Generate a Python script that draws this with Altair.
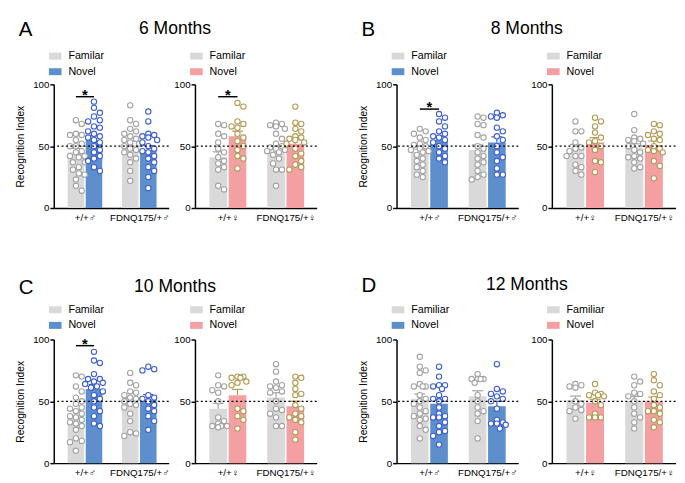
import math
import altair as alt
import pandas as pd

FONT = "Liberation Sans, Arial, DejaVu Sans"

# ---------------- data ----------------
GROUPS_M = ["+/+\u2642", "FDNQ175/+\u2642"]
GROUPS_F = ["+/+\u2640", "FDNQ175/+\u2640"]

# 6 months, males
m6_m_fam_wt = [71, 68, 60, 59, 59, 55, 52, 50, 50, 46, 45, 42, 41, 42, 37, 37, 33, 31, 28, 27, 23, 18, 14]
m6_m_nov_wt = [86, 81, 77, 74, 71, 70, 66, 65, 62, 60, 58, 57, 55, 53, 50, 47, 45, 42, 40, 38, 33, 30]
m6_m_fam_mut = [83, 71, 68, 64, 62, 60, 58, 56, 55, 53, 52, 50, 48, 47, 45, 43, 40, 37, 30, 22]
m6_m_nov_mut = [78, 70, 60, 59, 58, 57, 55, 53, 50, 48, 46, 45, 42, 40, 37, 33, 30, 25, 16]
m6_m_means = [45, 55, 51, 47]
# 6 months, females
m6_f_fam_wt = [68, 67, 60, 58, 53, 48, 45, 41, 38, 36, 33, 31, 18, 15]
m6_f_nov_wt = [85, 82, 70, 68, 66, 65, 60, 57, 54, 50, 47, 42, 40, 32]
m6_f_fam_mut = [69, 68, 67, 66, 64, 60, 56, 52, 50, 49, 48, 47, 46, 45, 43, 40, 36, 31, 31, 18]
m6_f_nov_mut = [82, 69, 68, 64, 62, 58, 57, 56, 55, 53, 52, 48, 44, 42, 38, 35, 33, 31]
m6_f_means = [41, 58, 46, 52]

# 8 months, males
m8_m_fam_wt = [64, 62, 60, 57, 55, 52, 51, 50, 48, 47, 46, 45, 43, 40, 38, 35, 33, 30, 27, 25]
m8_m_nov_wt = [76, 73, 70, 66, 62, 60, 58, 57, 55, 53, 50, 48, 45, 42, 40, 37]
m8_m_fam_mut = [74, 73, 68, 67, 59, 57, 50, 48, 45, 42, 40, 37, 35, 30, 27, 25, 23]
m8_m_nov_mut = [77, 75, 73, 74, 65, 62, 58, 55, 50, 45, 41, 38, 32, 27, 27]
m8_m_means = [45, 55, 47, 53]
# 8 months, females
m8_f_fam_wt = [70, 62, 62, 53, 49, 48, 46, 42, 42, 42, 35, 33, 30, 27]
m8_f_nov_wt = [73, 70, 66, 61, 57, 54, 53, 50, 47, 38, 37, 29]
m8_f_fam_mut = [76, 63, 57, 56, 55, 54, 52, 50, 47, 45, 42, 41, 40, 37, 33, 32]
m8_f_nov_mut = [68, 67, 62, 60, 59, 56, 55, 50, 48, 47, 46, 45, 38, 34, 24]
m8_f_means = [48, 53, 49, 51]

# 10 months, males
m10_m_fam_wt = [71, 70, 62, 58, 53, 50, 48, 45, 44, 42, 40, 38, 37, 35, 33, 32, 30, 27, 20, 18, 17, 10]
m10_m_nov_wt = [90, 83, 81, 72, 68, 68, 66, 65, 64, 62, 61, 58, 55, 52, 50, 45, 42, 38, 32, 30]
m10_m_fam_mut = [73, 65, 63, 58, 57, 55, 53, 52, 50, 48, 47, 45, 40, 34, 25, 24, 22]
m10_m_nov_mut = [78, 76, 75, 55, 53, 52, 50, 47, 44, 42, 38, 34, 27]
m10_m_means = [39, 60, 49, 51]
# 10 months, females
m10_f_fam_wt = [71, 63, 62, 59, 57, 50, 37, 34, 32, 30, 30, 30, 29]
m10_f_nov_wt = [70, 69, 70, 69, 66, 65, 63, 44, 42, 38, 35, 28]
m10_f_fam_mut = [80, 74, 66, 63, 62, 61, 58, 57, 50, 44, 43, 40, 37, 30, 30]
m10_f_nov_mut = [70, 69, 65, 60, 56, 55, 47, 44, 40, 38, 37, 35, 33, 25, 19]
m10_f_means = [44, 55, 53, 46]

# 12 months, males
m12_m_fam_wt = [86, 78, 75, 73, 64, 62, 62, 62, 55, 52, 50, 48, 45, 42, 40, 38, 36, 35, 30, 27, 20]
m12_m_nov_wt = [78, 70, 63, 63, 62, 60, 55, 52, 52, 50, 45, 40, 38, 37, 37, 33, 30, 26, 25, 22, 15]
m12_m_fam_mut = [72, 68, 68, 68, 68, 65, 55, 50, 45, 42, 40, 34, 20]
m12_m_nov_mut = [80, 60, 58, 56, 54, 52, 50, 44, 35, 33, 32, 32, 31, 28]
m12_m_means = [52, 48, 54, 46]
# 12 months, females
m12_f_fam_wt = [64, 63, 62, 61, 50, 48, 45, 43, 42, 36]
m12_f_nov_wt = [64, 57, 56, 55, 55, 54, 50, 47, 40, 37, 37, 37]
m12_f_fam_mut = [70, 66, 63, 57, 56, 54, 50, 45, 40, 37, 33, 28]
m12_f_nov_mut = [72, 67, 63, 58, 55, 52, 47, 45, 42, 42, 40, 35, 33, 29]
m12_f_means = [51, 49, 50, 50]

# ---------------- styling / layout ----------------
GRAY_BAR = "#d9d9d9"
GRAY_PT = "#a3a3a3"
BLUE_BAR = "#5d8fcc"
BLUE_PT = "#3d5fd0"
PINK_BAR = "#f4a0a3"
GOLD_PT = "#b39b55"

XMAX = 6.1
H = 127
CENTERS = [1.0, 2.05, 4.15, 5.2]
HALF = 0.48
GCENT = [(CENTERS[0] + CENTERS[1]) / 2, (CENTERS[2] + CENTERS[3]) / 2]
STEP = 3.3
DIAM = 6.2


def swarm(values, center, w):
    ppu = w / XMAX
    placed = []
    out = [0.0] * len(values)
    order = sorted(range(len(values)), key=lambda i: -values[i])
    for i in order:
        ypx = values[i] * H / 100.0
        best, best_pen = 0.0, None
        for k in [0, 1, -1, 2, -2, 3, -3]:
            xo = k * STEP
            pen = 0.0
            for px, py in placed:
                d = math.hypot(xo - px, ypx - py)
                if d < DIAM:
                    pen = max(pen, DIAM - d)
            if pen == 0:
                best = xo
                best_pen = 0
                break
            if best_pen is None or pen < best_pen - 0.5:
                best, best_pen = xo, pen
        placed.append((best, ypx))
        out[i] = center + best / ppu
    return out


def sem(v):
    n = len(v)
    m = sum(v) / n
    sd = math.sqrt(sum((x - m) ** 2 for x in v) / (n - 1))
    return sd / math.sqrt(n)


def panel(w, groups, cols, means, fam_label, nov_bar, nov_pt, ytitle,
          sig=None, letter=None, letter_y=-50, leg_y=-35.5):
    conds = [fam_label, "Novel", fam_label, "Novel"]
    tops = [means[i] + sem(cols[i]) for i in range(4)]
    bars = pd.DataFrame({
        "cond": conds,
        "x0": [c - HALF for c in CENTERS],
        "x1": [c + HALF for c in CENTERS],
        "xc": CENTERS,
        "c0": [c - 0.3 for c in CENTERS],
        "c1": [c + 0.3 for c in CENTERS],
        "mean": means,
        "base": [0, 0, 0, 0],
        "top": tops,
    })
    rows = []
    for i in range(4):
        xs = swarm(cols[i], CENTERS[i], w)
        for xv, yv in zip(xs, cols[i]):
            rows.append({"x": xv, "y": yv, "cond": conds[i]})
    pts = pd.DataFrame(rows)

    xs_ = alt.Scale(domain=[0, XMAX], nice=False, zero=False)
    ys_ = alt.Scale(domain=[0, 100], nice=False)
    label_expr = "datum.value < 3 ? '%s' : '%s'" % (groups[0], groups[1])
    x_axis = alt.Axis(values=GCENT, labelExpr=label_expr, ticks=False, domainColor="black",
                      domainWidth=1.5, labelFontSize=10, labelPadding=5, title=None, grid=False,
                      labelColor="black", labelFont=FONT, labelFlush=False, labelOverlap=False)
    y_kw = dict(values=[0, 50, 100], labelFontSize=10, tickSize=4, tickWidth=1.5,
                tickColor="black", domainColor="black", domainWidth=1.5, grid=False,
                labelPadding=1, labelColor="black", labelFont=FONT)
    if ytitle:
        y_axis = alt.Axis(title=ytitle, titleFontSize=10.5, titleFontWeight="normal",
                          titlePadding=7, titleColor="black", titleFont=FONT, **y_kw)
    else:
        y_axis = alt.Axis(title=None, **y_kw)

    def X(f):
        return alt.X(f, scale=xs_, axis=x_axis)

    def Y(f):
        return alt.Y(f, scale=ys_, axis=y_axis)

    stroke = alt.Stroke("cond:N", scale=alt.Scale(domain=[fam_label, "Novel"], range=[GRAY_PT, nov_pt]),
                        legend=None)
    legend = alt.Legend(title=None, orient="none", legendX=-5, legendY=leg_y, direction="vertical",
                        symbolType="M-1,-0.55H1V0.55H-1Z", symbolSize=169, symbolStrokeWidth=0,
                        symbolOpacity=1, labelFontSize=11, labelFont=FONT, labelColor="black",
                        rowPadding=4, labelOffset=7, padding=0)
    bar_layer = alt.Chart(bars).mark_bar(opacity=1, orient="vertical").encode(
        x=X("x0:Q"), x2="x1:Q", y=Y("mean:Q"), y2="base:Q",
        color=alt.Color("cond:N", scale=alt.Scale(domain=[fam_label, "Novel"], range=[GRAY_BAR, nov_bar]),
                        legend=legend))
    err = alt.Chart(bars).mark_rule(strokeWidth=1.2).encode(
        x=X("xc:Q"), y=Y("mean:Q"), y2="top:Q", stroke=stroke)
    cap = alt.Chart(bars).mark_rule(strokeWidth=1.2).encode(
        x=X("c0:Q"), x2="c1:Q", y=Y("top:Q"), stroke=stroke)
    dots = alt.Chart(pts).mark_point(shape="circle", size=30, fill="white", fillOpacity=1,
                                     strokeWidth=1.1, opacity=1).encode(
        x=X("x:Q"), y=Y("y:Q"), stroke=stroke)
    ref = alt.Chart(pd.DataFrame({"y": [50]})).mark_rule(
        strokeDash=[2, 2.5], color="black", strokeWidth=1.3).encode(y=Y("y:Q"))
    layers = [bar_layer, err, cap, dots, ref]
    if sig is not None:
        sdf = pd.DataFrame({"x0": [CENTERS[0]], "x1": [CENTERS[1]], "xm": [GCENT[0]],
                            "y": [sig], "t": ["*"]})
        layers.append(alt.Chart(sdf).mark_rule(color="black", strokeWidth=1.5).encode(
            x=X("x0:Q"), x2="x1:Q", y=Y("y:Q")))
        layers.append(alt.Chart(sdf).mark_text(fontSize=15, fontWeight="bold", font=FONT,
                                               baseline="alphabetic", dy=3, color="black").encode(
            x=X("xm:Q"), y=Y("y:Q"), text="t:N"))
    if letter is not None:
        layers.append(alt.Chart(pd.DataFrame({"t": [letter]})).mark_text(
            fontSize=21, font=FONT, align="left", baseline="alphabetic", color="black").encode(
            x=alt.value(-36), y=alt.value(letter_y), text="t:N"))
    return alt.layer(*layers).properties(width=w, height=H)


def indep(c):
    return c.resolve_scale(color="independent", stroke="independent",
                           x="independent", y="independent").resolve_legend(color="independent")


def pair(a, b, spacing, title, dx):
    t = alt.TitleParams(title, fontSize=18, font=FONT, fontWeight="normal", color="black",
                        anchor="middle", offset=-19, dx=dx)
    return indep(alt.hconcat(a, b, spacing=spacing, title=t))


A1 = panel(118, GROUPS_M, [m6_m_fam_wt, m6_m_nov_wt, m6_m_fam_mut, m6_m_nov_mut], m6_m_means,
           "Familar", BLUE_BAR, BLUE_PT, "Recognition Index", sig=90, letter="A")
A2 = panel(125, GROUPS_F, [m6_f_fam_wt, m6_f_nov_wt, m6_f_fam_mut, m6_f_nov_mut], m6_f_means,
           "Familar", PINK_BAR, GOLD_PT, None, sig=90)
B1 = panel(125, GROUPS_M, [m8_m_fam_wt, m8_m_nov_wt, m8_m_fam_mut, m8_m_nov_mut], m8_m_means,
           "Familar", BLUE_BAR, BLUE_PT, "Recognition Index", sig=80, letter="B")
B2 = panel(127, GROUPS_F, [m8_f_fam_wt, m8_f_nov_wt, m8_f_fam_mut, m8_f_nov_mut], m8_f_means,
           "Familar", PINK_BAR, GOLD_PT, None)
C1 = panel(118, GROUPS_M, [m10_m_fam_wt, m10_m_nov_wt, m10_m_fam_mut, m10_m_nov_mut], m10_m_means,
           "Familar", BLUE_BAR, BLUE_PT, "Recognition Index", sig=95, letter="C", letter_y=-47, leg_y=-37)
C2 = panel(125, GROUPS_F, [m10_f_fam_wt, m10_f_nov_wt, m10_f_fam_mut, m10_f_nov_mut], m10_f_means,
           "Familar", PINK_BAR, GOLD_PT, None, leg_y=-37)
D1 = panel(125, GROUPS_M, [m12_m_fam_wt, m12_m_nov_wt, m12_m_fam_mut, m12_m_nov_mut], m12_m_means,
           "Familiar", BLUE_BAR, BLUE_PT, "Recognition Index", letter="D", letter_y=-49, leg_y=-37)
D2 = panel(127, GROUPS_F, [m12_f_fam_wt, m12_f_nov_wt, m12_f_fam_mut, m12_f_nov_mut], m12_f_means,
           "Familiar", PINK_BAR, GOLD_PT, None, leg_y=-37)

top = indep(alt.hconcat(pair(A1, A2, 4, "6 Months", 8.5), pair(B1, B2, 11.5, "8 Months", 9.5), spacing=42))
bottom = indep(alt.hconcat(pair(C1, C2, 4, "10 Months", 8.5), pair(D1, D2, 11.5, "12 Months", 9.5), spacing=42))

chart = indep(alt.vconcat(top, bottom, spacing=54)).properties(
    padding={"left": 8, "top": 5, "right": 0, "bottom": 0}
).configure_view(stroke=None)

chart.save("out.html", embed_options={"renderer": "svg", "actions": False})
